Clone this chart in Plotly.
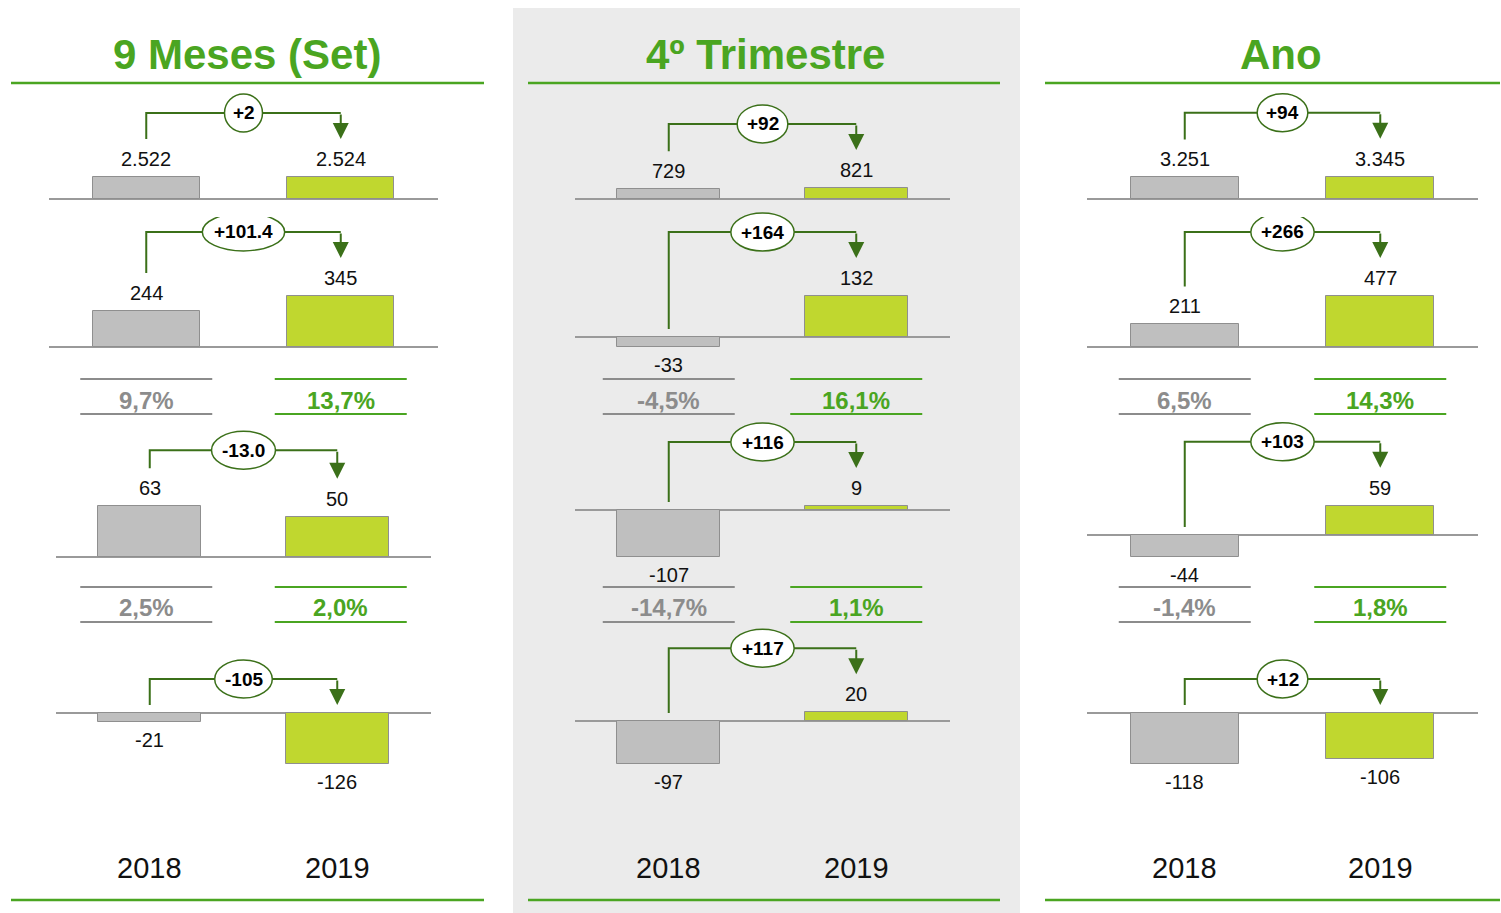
import plotly.graph_objects as go

# ---- data -----------------------------------------------------------------
periods = ["9 Meses (Set)", "4º Trimestre", "Ano"]
years = ["2018", "2019"]

receita_2018 = [2522, 729, 3251]
receita_2019 = [2524, 821, 3345]
ebitda_2018 = [244, -33, 211]
ebitda_2019 = [345, 132, 477]
resultado_2018 = [63, -107, -44]
resultado_2019 = [50, 9, 59]
lucro_2018 = [-21, -97, -118]
lucro_2019 = [-126, 20, -106]

var_receita = ["+2", "+92", "+94"]
var_ebitda = ["+101.4", "+164", "+266"]
var_resultado = ["-13.0", "+116", "+103"]
var_lucro = ["-105", "+117", "+12"]

margem_ebitda_2018 = [9.7, -4.5, 6.5]
margem_ebitda_2019 = [13.7, 16.1, 14.3]
margem_resultado_2018 = [2.5, -14.7, -1.4]
margem_resultado_2019 = [2.0, 1.1, 1.8]

# ---- layout geometry (pixels) ---------------------------------------------
W, H = 1501, 913
GREEN = "#4aa521"
DARK_GREEN = "#3b7019"
GRAY_TXT = "#8c8c8c"
BAR_COLORS = ["#bfbfbf", "#c0d72f"]
FONT = "Liberation Sans, Arial, sans-serif"

def px(x):
    return x / W

def py(y):
    return 1 - y / H

panel_center = [247, 765, 1281]
axis_x = [[(49, 438), (49, 438), (56, 431), (56, 431)],
          [(575, 950)] * 4,
          [(1087, 1478)] * 4]
baselines = [[199, 347, 557, 713], [199, 337, 510, 721], [199, 347, 535, 713]]
scales = [[0.00872, 0.148, 0.805, 0.405],
          [0.0135, 0.31, 0.44, 0.443],
          [0.00665, 0.107, 0.495, 0.433]]
lifts = [[26, 26, 18, 26], [26] * 4, [26] * 4]
UP, DOWN = 130, 70

rows = [
    (receita_2018, receita_2019, var_receita),
    (ebitda_2018, ebitda_2019, var_ebitda),
    (resultado_2018, resultado_2019, var_resultado),
    (lucro_2018, lucro_2019, var_lucro),
]


def fmt_num(v):
    return f"{v:,}".replace(",", ".")


def fmt_pct(v):
    return f"{v:.1f}".replace(".", ",") + "%"


def text_width(s, size):
    w = {"+": 0.584, "-": 0.333, ".": 0.278}
    return sum(w.get(c, 0.556) for c in s) * size


fig = go.Figure()
shapes = []
annotations = []
layout_axes = {}

# grey background of the quarter panel
shapes.append(dict(type="rect", xref="paper", yref="paper",
                   x0=px(513), x1=px(1020), y0=py(913), y1=py(8),
                   fillcolor="#ebebeb", line=dict(width=0), layer="below"))

for p in range(3):
    # title and green rules
    annotations.append(dict(xref="paper", yref="paper", x=px(panel_center[p]), y=py(55),
                            text=f"<b>{periods[p]}</b>", showarrow=False,
                            font=dict(family=FONT, size=42, color=GREEN),
                            xanchor="center", yanchor="middle"))
    rule_x = [(11, 484), (528, 1000), (1045, 1500)][p]
    for yy in (83, 900):
        shapes.append(dict(type="line", xref="paper", yref="paper",
                           x0=px(rule_x[0]), x1=px(rule_x[1]), y0=py(yy), y1=py(yy),
                           line=dict(color=GREEN, width=2.5)))

    for r in range(4):
        idx = p * 4 + r + 1
        xa, ya = f"x{idx}", f"y{idx}"
        base, s = baselines[p][r], scales[p][r]
        x0p, x1p = axis_x[p][r]
        layout_axes[f"xaxis{idx}"] = dict(domain=[px(x0p), px(x1p)], range=[-0.5, 1.5],
                                          visible=False, anchor=ya, fixedrange=True)
        layout_axes[f"yaxis{idx}"] = dict(domain=[py(base + DOWN), py(base - UP)],
                                          range=[-DOWN / s, UP / s], anchor=xa,
                                          showgrid=False, showticklabels=False, ticks="",
                                          showline=False, zeroline=True,
                                          zerolinecolor="#9a9a9a", zerolinewidth=1.5,
                                          fixedrange=True)
        v18 = rows[r][0][p]
        v19 = rows[r][1][p]
        delta = rows[r][2][p]
        vals = [v18, v19]

        fig.add_trace(go.Bar(x=[0, 1], y=vals, width=0.55, xaxis=xa, yaxis=ya,
                             marker=dict(color=BAR_COLORS, line=dict(color="#8f8f8f", width=1)),
                             showlegend=False, hoverinfo="skip"))

        for i, v in enumerate(vals):
            annotations.append(dict(xref=xa, yref=ya, x=i, y=v, text=fmt_num(v),
                                    showarrow=False, yshift=18 if v >= 0 else -18,
                                    font=dict(family=FONT, size=20, color="#111111"),
                                    xanchor="center", yanchor="middle"))

        # connector between the two years
        def up(v):
            return (v * s + 38) if v > 0 else 8
        start_up, tip_up = up(v18), up(v19)
        level_up = max(start_up, tip_up) + lifts[p][r]
        y_start, y_tip, y_level = start_up / s, tip_up / s, level_up / s
        fig.add_trace(go.Scatter(x=[0, 0, 1], y=[y_start, y_level, y_level], mode="lines",
                                 line=dict(color=DARK_GREEN, width=2), xaxis=xa, yaxis=ya,
                                 showlegend=False, hoverinfo="skip"))
        annotations.append(dict(xref=xa, yref=ya, x=1, y=y_tip, axref=xa, ayref=ya,
                                ax=1, ay=y_level, text="", showarrow=True,
                                arrowhead=2, arrowsize=1.6, arrowwidth=2,
                                arrowcolor=DARK_GREEN, standoff=0))
        ew = max(38, 1.2 * text_width(delta, 19) + 12)
        shapes.append(dict(type="circle", xref=xa, yref=ya, xsizemode="pixel",
                           ysizemode="pixel", xanchor=0.5, yanchor=y_level,
                           x0=-ew / 2, x1=ew / 2, y0=-19, y1=19,
                           fillcolor="white", line=dict(color=DARK_GREEN, width=1.5),
                           layer="above"))
        annotations.append(dict(xref=xa, yref=ya, x=0.5, y=y_level, text=f"<b>{delta}</b>",
                                showarrow=False, font=dict(family=FONT, size=19, color="black"),
                                xanchor="center", yanchor="middle"))

    # margin rows
    ref = f"x{p * 4 + 2}"
    margins = [(margem_ebitda_2018, margem_ebitda_2019, 379, 414, 400),
               (margem_resultado_2018, margem_resultado_2019, 587, 622, 607)]
    for m18, m19, ytop, ybot, ytxt in margins:
        for i, (mv, col) in enumerate([(m18[p], GRAY_TXT), (m19[p], GREEN)]):
            for yy in (ytop, ybot):
                shapes.append(dict(type="line", xref=ref, yref="paper", xsizemode="pixel",
                                   xanchor=i, x0=-66, x1=66, y0=py(yy), y1=py(yy),
                                   line=dict(color=col, width=2)))
            annotations.append(dict(xref=ref, yref="paper", x=i, y=py(ytxt),
                                    text=f"<b>{fmt_pct(mv)}</b>", showarrow=False,
                                    font=dict(family=FONT, size=24, color=col),
                                    xanchor="center", yanchor="middle"))

    # year labels
    ref4 = f"x{p * 4 + 4}"
    for i, yr in enumerate(years):
        annotations.append(dict(xref=ref4, yref="paper", x=i, y=py(868), text=yr,
                                showarrow=False, font=dict(family=FONT, size=29, color="#111111"),
                                xanchor="center", yanchor="middle"))

fig.update_layout(width=W, height=H, margin=dict(l=0, r=0, t=0, b=0),
                  paper_bgcolor="white", plot_bgcolor="rgba(0,0,0,0)",
                  shapes=shapes, annotations=annotations, showlegend=False,
                  bargap=0, **layout_axes)
fig.write_html("out.html", config={"displayModeBar": False})
